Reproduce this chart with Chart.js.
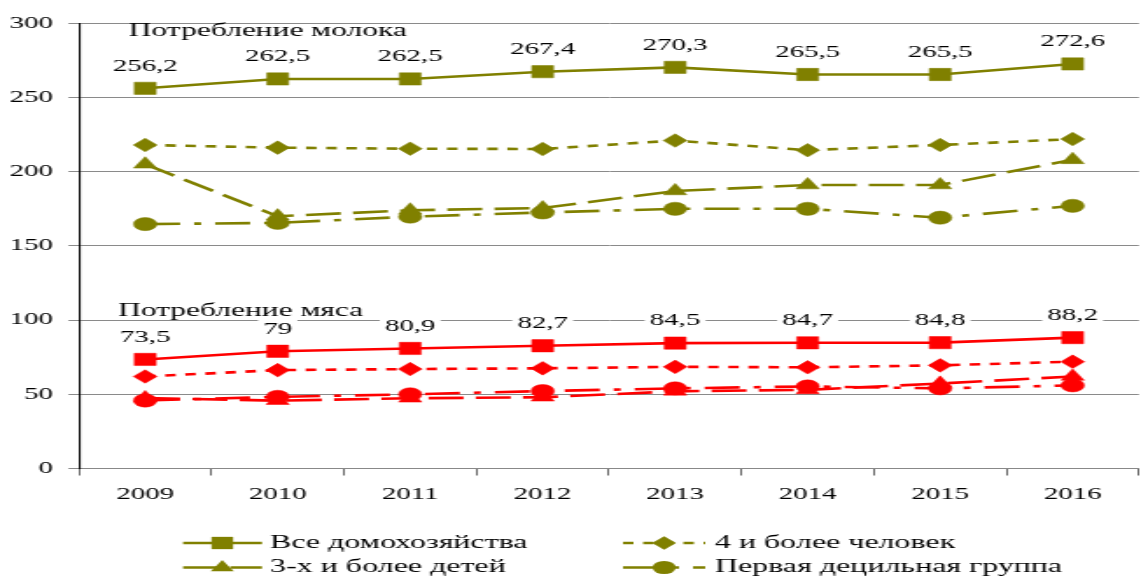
<!DOCTYPE html>
<html>
<head>
<meta charset="utf-8">
<script src="https://cdn.jsdelivr.net/npm/chart.js@4.4.1/dist/chart.umd.min.js"></script>
<style>
  html, body { margin: 0; padding: 0; background: #fff; overflow: hidden; width: 1142px; height: 577px; }
  /* the chart is laid out narrow and then widened horizontally */
  #wrap { position: absolute; left: 0; top: 0; width: 660px; height: 577px; transform: scaleX(1.75); transform-origin: 0 0; }
  canvas { display: block; }
</style>
</head>
<body>
<div id="wrap"><canvas id="chart" width="660" height="577"></canvas></div>
<script>
// Years on the horizontal axis
const years = ['2009', '2010', '2011', '2012', '2013', '2014', '2015', '2016'];

// Milk consumption, kg per person per year
const milkAll     = [256.2, 262.5, 262.5, 267.4, 270.3, 265.5, 265.5, 272.6];
const milkFourPlus = [218.0, 216.2, 215.5, 215.3, 221.0, 214.5, 218.0, 222.0];
const milkThreeKids = [205.0, 170.0, 174.0, 175.5, 187.0, 191.0, 191.0, 208.0];
const milkDecile  = [164.7, 165.5, 169.7, 172.5, 175.0, 175.0, 169.0, 177.0];

// Meat consumption, kg per person per year
const meatAll     = [73.5, 79, 80.9, 82.7, 84.5, 84.7, 84.8, 88.2];
const meatFourPlus = [62.0, 66.3, 67.0, 67.5, 68.5, 68.2, 69.5, 72.0];
const meatThreeKids = [47.5, 45.7, 47.3, 48.0, 52.0, 53.0, 57.3, 62.0];
const meatDecile  = [45.8, 48.3, 50.0, 52.2, 54.0, 55.3, 54.0, 56.0];

// Household groups
const groupNames = ['Все домохозяйства', '4 и более человек', '3-х и более детей', 'Первая децильная группа'];
const sectionTitles = ['Потребление молока', 'Потребление мяса'];

// Y axis range
const yMin = 0, yMax = 300, yStep = 50;

const FONT = "'Liberation Serif', 'Times New Roman', serif";
const OLIVE = '#808000';
const RED = '#ff0000';

// One look per household group: marker shape, marker size, line dash
const groupStyles = [
  { point: 'rect',     radius: 8.7, dash: [] },
  { point: 'rectRot',  radius: 6.8, dash: [6, 5.5] },
  { point: 'triangle', radius: 7.6, dash: [20, 7] },
  { point: 'circle',   radius: 6.6, dash: [20, 8, 4, 8] }
];

function makeSet(values, idx, color) {
  const st = groupStyles[idx];
  return {
    label: groupNames[idx],
    data: values,
    borderColor: color,
    backgroundColor: color,
    borderWidth: 2.6,
    borderDash: st.dash,
    pointStyle: st.point,
    pointRadius: st.radius,
    pointHoverRadius: st.radius,
    pointBackgroundColor: color,
    pointBorderColor: color,
    pointBorderWidth: 0.5,
    tension: 0,
    fill: false
  };
}

const datasets = [
  makeSet(milkAll, 0, OLIVE),
  makeSet(milkFourPlus, 1, OLIVE),
  makeSet(milkThreeKids, 2, OLIVE),
  makeSet(milkDecile, 3, OLIVE),
  makeSet(meatAll, 0, RED),
  makeSet(meatFourPlus, 1, RED),
  makeSet(meatThreeKids, 2, RED),
  makeSet(meatDecile, 3, RED)
];

// Marker drawn in the legend, same geometry as the chart's points
function drawMarker(ctx, style, x, y, r) {
  ctx.beginPath();
  if (style === 'rect') {
    const h = r * Math.SQRT1_2;
    ctx.rect(x - h, y - h, 2 * h, 2 * h);
  } else if (style === 'rectRot') {
    ctx.moveTo(x, y - r); ctx.lineTo(x + r, y); ctx.lineTo(x, y + r); ctx.lineTo(x - r, y);
    ctx.closePath();
  } else if (style === 'triangle') {
    for (let k = 0; k < 3; k++) {
      const a = k * 2 * Math.PI / 3;
      const px = x + Math.sin(a) * r, py = y - Math.cos(a) * r;
      if (k === 0) ctx.moveTo(px, py); else ctx.lineTo(px, py);
    }
    ctx.closePath();
  } else {
    ctx.arc(x, y, r, 0, Math.PI * 2);
  }
  ctx.fill();
}

const fmt = v => String(v).replace('.', ',');

const overlay = {
  id: 'overlay',
  afterDatasetsDraw(chart) {
    const ctx = chart.ctx;
    const area = chart.chartArea;
    const ys = chart.scales.y;
    ctx.save();

    // value labels above the "all households" lines
    ctx.font = '16.5px ' + FONT;
    ctx.textAlign = 'center';
    ctx.textBaseline = 'middle';
    [0, 4].forEach(di => {
      const meta = chart.getDatasetMeta(di);
      meta.data.forEach((pt, i) => {
        const txt = fmt(chart.data.datasets[di].data[i]);
        const w = ctx.measureText(txt).width;
        const cy = pt.y - 23;
        ctx.fillStyle = '#fff';
        ctx.fillRect(pt.x - w / 2 - 3, cy - 9, w + 6, 18);
        ctx.fillStyle = '#000';
        ctx.fillText(txt, pt.x, cy + 1);
      });
    });

    // section titles
    ctx.font = '18px ' + FONT;
    ctx.textAlign = 'left';
    ctx.fillStyle = '#000';
    ctx.fillText(sectionTitles[0], area.left + 28.5, ys.getPixelForValue(294.6));
    ctx.fillText(sectionTitles[1], area.left + 22.3, ys.getPixelForValue(105.8));

    // legend: two columns, two rows
    const cols = [
      { x0: 104.6, x1: 149.7, mx: 127.0, tx: 154.3 },
      { x0: 356.0, x1: 403.0, mx: 379.5, tx: 408.5 }
    ];
    const rows = [543, 567.5];
    const order = [[0, 0, 0], [1, 0, 1], [2, 1, 0], [3, 1, 1]];
    ctx.font = '18.3px ' + FONT;
    ctx.textBaseline = 'middle';
    order.forEach(([gi, r, c]) => {
      const st = groupStyles[gi];
      const col = cols[c];
      const y = rows[r];
      ctx.strokeStyle = OLIVE;
      ctx.lineWidth = 2.6;
      ctx.setLineDash(st.dash);
      ctx.beginPath();
      ctx.moveTo(col.x0, y);
      ctx.lineTo(col.x1, y);
      ctx.stroke();
      ctx.setLineDash([]);
      ctx.fillStyle = OLIVE;
      drawMarker(ctx, st.point, col.mx, y, st.radius);
      ctx.fillStyle = '#000';
      ctx.fillText(groupNames[gi], col.tx, y);
    });

    ctx.restore();
  }
};

new Chart(document.getElementById('chart'), {
  type: 'line',
  data: { labels: years, datasets: datasets },
  plugins: [overlay],
  options: {
    responsive: false,
    animation: false,
    devicePixelRatio: 1,
    layout: { padding: { top: 23.3, left: 0, right: 3.4, bottom: 0 } },
    plugins: {
      legend: { display: false },
      tooltip: { enabled: false },
      title: { display: false }
    },
    scales: {
      x: {
        type: 'category',
        offset: true,
        grid: {
          display: true,
          drawOnChartArea: false,
          drawTicks: true,
          tickLength: 7,
          offset: true,
          color: '#666',
          lineWidth: 1
        },
        border: { display: true, color: '#888', width: 1 },
        ticks: {
          padding: 9,
          color: '#000',
          font: { family: FONT, size: 16.5 },
          maxRotation: 0,
          autoSkip: false
        },
        afterFit(scale) { scale.height = 108.5; }
      },
      y: {
        min: yMin,
        max: yMax,
        ticks: {
          stepSize: yStep,
          padding: 8.8,
          color: '#000',
          font: { family: FONT, size: 16.5 }
        },
        grid: {
          color: '#8a8a8a',
          lineWidth: 1,
          drawTicks: true,
          tickLength: 6
        },
        border: { display: true, color: '#000', width: 1.1 },
        afterFit(scale) { scale.width = 45.1; }
      }
    }
  }
});
</script>
</body>
</html>
